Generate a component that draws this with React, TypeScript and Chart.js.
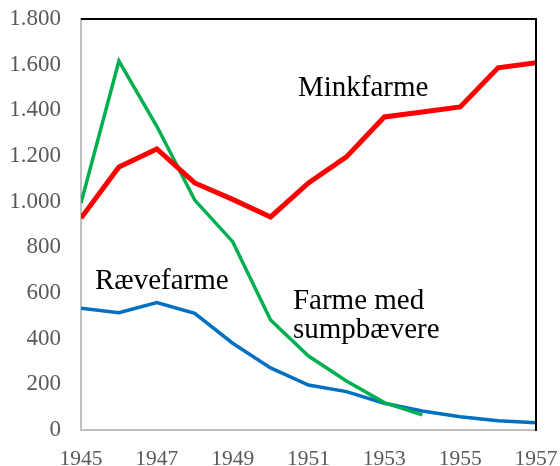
import React, { useEffect, useRef } from "react";
import { Chart, registerables } from "chart.js";

Chart.register(...registerables);

const years = [1945, 1946, 1947, 1948, 1949, 1950, 1951, 1952, 1953, 1954, 1955, 1956, 1957];
const minkfarme = [928, 1152, 1231, 1082, 1010, 933, 1082, 1196, 1371, 1393, 1415, 1586, 1608];
const sumpbaevere = [994, 1616, 1330, 1007, 825, 482, 324, 215, 120, 66];
const raevefarme = [533, 514, 558, 511, 380, 272, 197, 168, 117, 83, 58, 41, 32];
const xTicks = [1945, 1947, 1949, 1951, 1953, 1955, 1957];
const yTicks = [0, 200, 400, 600, 800, 1000, 1200, 1400, 1600, 1800];

const labelTexts = ["Minkfarme", "Rævefarme", "Farme med", "sumpbævere"];
const labelAnchors = [
  { x: 1950.72, y: 1463 },
  { x: 1945.37, y: 618 },
  { x: 1950.59, y: 530 },
  { x: 1950.59, y: 403 },
];

const danish = (v: number) => {
  const s = String(Math.round(v));
  return s.length > 3 ? s.slice(0, s.length - 3) + "." + s.slice(s.length - 3) : s;
};

const toPoints = (vals: number[]) => vals.map((v, i) => ({ x: years[i], y: v }));

const framePlugin = {
  id: "frame",
  afterDatasetsDraw(chart: any) {
    const { ctx, chartArea, scales } = chart;
    ctx.save();
    ctx.strokeStyle = "#000";
    ctx.lineWidth = 2;
    ctx.beginPath();
    ctx.moveTo(chartArea.left, chartArea.top);
    ctx.lineTo(chartArea.right, chartArea.top);
    ctx.lineTo(chartArea.right, chartArea.bottom + 1);
    ctx.stroke();
    ctx.fillStyle = "#000";
    ctx.font = "29px 'Liberation Serif', 'Times New Roman', serif";
    ctx.textBaseline = "alphabetic";
    ctx.textAlign = "left";
    labelTexts.forEach((t, i) => {
      const a = labelAnchors[i];
      ctx.fillText(t, scales.x.getPixelForValue(a.x), scales.y.getPixelForValue(a.y));
    });
    ctx.restore();
  },
};

export default function App() {
  const ref = useRef<HTMLCanvasElement | null>(null);
  useEffect(() => {
    document.body.style.margin = "0";
    const family = "'Liberation Serif', 'Times New Roman', serif";
    const chart = new Chart(ref.current as HTMLCanvasElement, {
      type: "line",
      data: {
        datasets: [
          { label: "Minkfarme", data: toPoints(minkfarme), borderColor: "#FF0000", borderWidth: 5, pointRadius: 0, tension: 0 },
          { label: "Farme med sumpbævere", data: toPoints(sumpbaevere), borderColor: "#00B050", borderWidth: 3.5, pointRadius: 0, tension: 0 },
          { label: "Rævefarme", data: toPoints(raevefarme), borderColor: "#0070C0", borderWidth: 3.5, pointRadius: 0, tension: 0 },
        ],
      },
      options: {
        animation: false,
        responsive: false,
        maintainAspectRatio: false,
        plugins: { legend: { display: false }, tooltip: { enabled: false } },
        layout: { autoPadding: false, padding: { left: 0, right: 24, top: 19, bottom: 0 } },
        scales: {
          x: {
            type: "linear",
            min: 1945,
            max: 1957,
            afterBuildTicks: (s: any) => { s.ticks = xTicks.map((v) => ({ value: v })); },
            afterFit: (s: any) => { s.height = 36; s.paddingLeft = 0; s.paddingRight = 0; s.paddingTop = 0; s.paddingBottom = 0; },
            grid: { display: false, drawTicks: false },
            border: { display: true, color: "#C0C0C0", width: 2 },
            ticks: { color: "#595959", font: { family, size: 21.5 }, padding: 16, maxRotation: 0, autoSkip: false, callback: (v: any) => String(v) },
          },
          y: {
            min: 0,
            max: 1800,
            afterBuildTicks: (s: any) => { s.ticks = yTicks.map((v) => ({ value: v })); },
            afterFit: (s: any) => { s.width = 81; s.paddingLeft = 0; s.paddingRight = 0; s.paddingTop = 0; s.paddingBottom = 0; },
            grid: { display: false, drawTicks: false },
            border: { display: true, color: "#C0C0C0", width: 2 },
            ticks: { color: "#595959", font: { family, size: 23 }, padding: 20, callback: (v: any) => danish(Number(v)) },
          },
        },
      },
      plugins: [framePlugin],
    } as any);
    return () => chart.destroy();
  }, []);
  return <canvas ref={ref} width={560} height={466} style={{ display: "block" }} />;
}
